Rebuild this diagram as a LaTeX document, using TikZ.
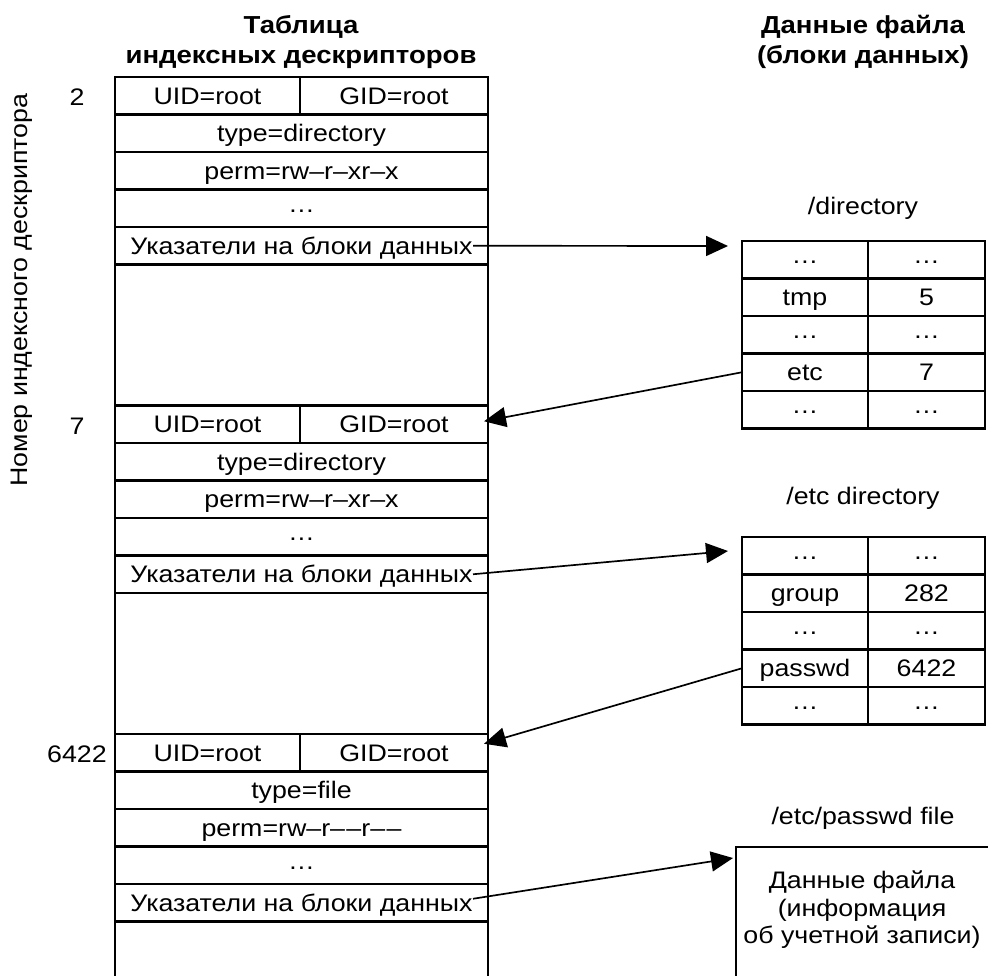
\documentclass[tikz,border=0pt]{standalone}
\usepackage{fontspec}
\setmainfont{Liberation Sans}[FakeStretch=1.12]
\usetikzlibrary{arrows.meta,positioning,calc}
\newcommand{\middots}{\raisebox{0.2em}{…}}

\begin{document}
\begin{tikzpicture}[x=0.25mm, y=-0.25mm, font=\fontsize{17}{20}\selectfont,
    cell/.style={draw, line width=1.5pt, inner sep=0pt, outer sep=0pt, minimum height=9.375mm, anchor=north west, text height=12.2pt, text depth=0pt},
    ptrarrow/.style={line width=1.2pt, -{Triangle[length=5.5mm, width=5mm]}},
    head/.style={font=\fontsize{17.5}{21.3}\selectfont\bfseries, align=center}]
    \useasboundingbox (0,0) rectangle (988,975);
    \clip (0,0) rectangle (988,975);

    % headings
    \node[head] (itable) at (301,42) {Таблица\\индексных дескрипторов};
    \node[head] (dtable) at (863,42) {Данные файла\\(блоки данных)};
    \node[rotate=90] (numlabel) at (22,290) {Номер индексного дескриптора};

    % inode 2
    \node (num2) at (77,97) {2};
    \node[cell, minimum width=46.25mm] (uid2) at (115,77) {UID=root};
    \node[cell, minimum width=47mm] (gid2) at (uid2.north east) {GID=root};
    \node[cell, minimum width=93.25mm] (type2) at (uid2.south west) {type=directory};
    \node[cell, minimum width=93.25mm] (perm2) at (type2.south west) {perm=rw–r–xr–x};
    \node[cell, minimum width=93.25mm] (more2) at (perm2.south west) {\middots};
    \node[cell, minimum width=93.25mm] (ptr2) at (more2.south west) {Указатели на блоки данных};

    % inode 7
    \node (num7) at (77,426) {7};
    \node[cell, minimum width=46.25mm] (uid7) at (115,405.5) {UID=root};
    \node[cell, minimum width=47mm] (gid7) at (uid7.north east) {GID=root};
    \node[cell, minimum width=93.25mm] (type7) at (uid7.south west) {type=directory};
    \node[cell, minimum width=93.25mm] (perm7) at (type7.south west) {perm=rw–r–xr–x};
    \node[cell, minimum width=93.25mm] (more7) at (perm7.south west) {\middots};
    \node[cell, minimum width=93.25mm] (ptr7) at (more7.south west) {Указатели на блоки данных};

    % inode 6422
    \node (num6422) at (77,754) {6422};
    \node[cell, minimum width=46.25mm] (uid6422) at (115,734) {UID=root};
    \node[cell, minimum width=47mm] (gid6422) at (uid6422.north east) {GID=root};
    \node[cell, minimum width=93.25mm] (type6422) at (uid6422.south west) {type=file};
    \node[cell, minimum width=93.25mm] (perm6422) at (type6422.south west) {perm=rw–r–\kern1pt–r–\kern1pt–};
    \node[cell, minimum width=93.25mm] (more6422) at (perm6422.south west) {\middots};
    \node[cell, minimum width=93.25mm] (ptr6422) at (more6422.south west) {Указатели на блоки данных};

    % table sides
    \draw[line width=1.5pt] (ptr2.south west) -- (uid7.north west) (ptr2.south east) -- (gid7.north east);
    \draw[line width=1.5pt] (ptr7.south west) -- (uid6422.north west) (ptr7.south east) -- (gid6422.north east);
    \draw[line width=1.5pt] (ptr6422.south west) -- ++(0,60) (ptr6422.south east) -- ++(0,60);

    % /directory
    \node (dirlabel) at (863,208) {/directory};
    \node[cell, minimum width=31.5mm] (rn1) at (742,241) {\middots};
    \node[cell, minimum width=29.25mm] (ri1) at (rn1.north east) {\middots};
    \node[cell, minimum width=31.5mm] (rn2) at (rn1.south west) {tmp};
    \node[cell, minimum width=29.25mm] (ri2) at (rn2.north east) {5};
    \node[cell, minimum width=31.5mm] (rn3) at (rn2.south west) {\middots};
    \node[cell, minimum width=29.25mm] (ri3) at (rn3.north east) {\middots};
    \node[cell, minimum width=31.5mm] (rn4) at (rn3.south west) {etc};
    \node[cell, minimum width=29.25mm] (ri4) at (rn4.north east) {7};
    \node[cell, minimum width=31.5mm] (rn5) at (rn4.south west) {\middots};
    \node[cell, minimum width=29.25mm] (ri5) at (rn5.north east) {\middots};

    % /etc directory
    \node (etclabel) at (863,498) {/etc directory};
    \node[cell, minimum width=31.5mm] (en1) at (742,537) {\middots};
    \node[cell, minimum width=29.25mm] (ei1) at (en1.north east) {\middots};
    \node[cell, minimum width=31.5mm] (en2) at (en1.south west) {group};
    \node[cell, minimum width=29.25mm] (ei2) at (en2.north east) {282};
    \node[cell, minimum width=31.5mm] (en3) at (en2.south west) {\middots};
    \node[cell, minimum width=29.25mm] (ei3) at (en3.north east) {\middots};
    \node[cell, minimum width=31.5mm] (en4) at (en3.south west) {passwd};
    \node[cell, minimum width=29.25mm] (ei4) at (en4.north east) {6422};
    \node[cell, minimum width=31.5mm] (en5) at (en4.south west) {\middots};
    \node[cell, minimum width=29.25mm] (ei5) at (en5.north east) {\middots};

    % /etc/passwd file
    \node (pwlabel) at (863,818) {/etc/passwd file};
    \node[cell, minimum width=66mm, minimum height=36mm] (pwbox) at (736,847) {};
    \node[align=center, font=\fontsize{17}{19.5}\selectfont] (pwtext) at (862,910) {Данные файла\\(информация\\об учетной записи)};

    % pointers
    \draw[ptrarrow] ($(ptr2.east)+(-15,0)$) -- ($(rn1.north west)+(-14,5)$);
    \draw[ptrarrow] (rn4.west) -- ($(gid7.east)+(-4,-3)$);
    \draw[ptrarrow] ($(ptr7.east)+(-15,0)$) -- ($(en1.north west)+(-14,14)$);
    \draw[ptrarrow] (en4.west) -- ($(gid6422.east)+(-4,-9)$);
    \draw[ptrarrow] ($(ptr6422.east)+(-15,-4)$) -- ($(pwbox.north west)+(-3,11)$);
\end{tikzpicture}
\end{document}
